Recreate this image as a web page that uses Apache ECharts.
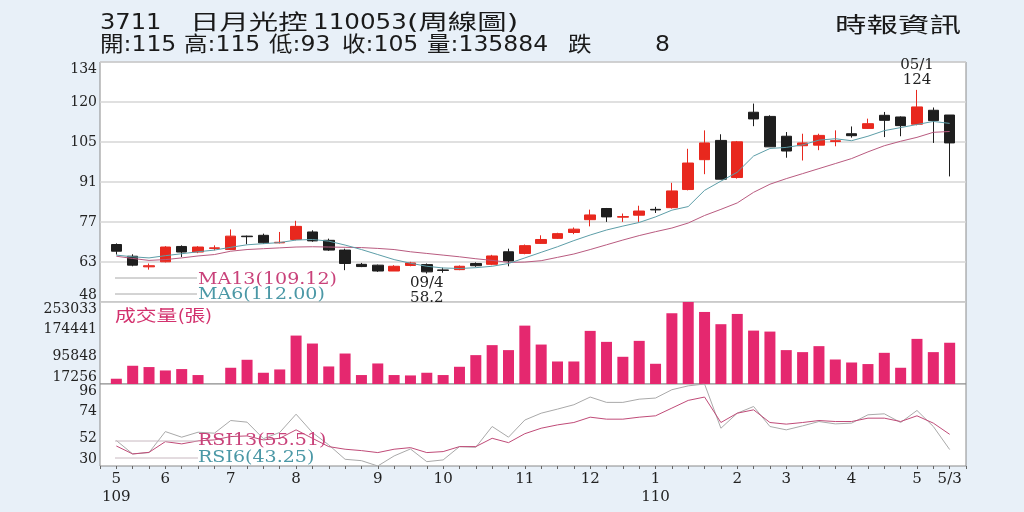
<!DOCTYPE html>
<html><head><meta charset="utf-8">
<script src="https://cdn.jsdelivr.net/npm/echarts@6/dist/echarts.min.js"></script>
<style>html,body{margin:0;padding:0;background:#e8f0f8;}#c{width:1024px;height:512px;}</style>
</head><body><div id="c"></div>
<script>
const weeks = ['109/05/2','109/05/3','109/05/4','109/06/1','109/06/2','109/06/3','109/06/4','109/07/1','109/07/2','109/07/3','109/07/4','109/08/1','109/08/2','109/08/3','109/08/4','109/08/5','109/09/1','109/09/2','109/09/3','109/09/4','109/10/1','109/10/2','109/10/3','109/10/4','109/10/5','109/11/1','109/11/2','109/11/3','109/11/4','109/12/1','109/12/2','109/12/3','109/12/4','110/01/1','110/01/2','110/01/3','110/01/4','110/01/5','110/02/1','110/02/2','110/02/3','110/03/1','110/03/2','110/03/3','110/03/4','110/04/1','110/04/2','110/04/3','110/04/4','110/05/1','110/05/2','110/05/3'];
const opens  = [68.6,64.4,60.6,62.4,67.9,65.9,67.2,66.8,71.6,71.9,69.2,70.4,73.1,70.1,66.6,61.5,61.2,59.1,61.1,61.4,59.5,59.6,61.8,61.5,66.0,65.4,69.0,70.8,72.9,77.5,81.5,78.4,79.1,81.2,81.8,88.3,99.0,105.9,92.6,116.0,114.5,107.4,104.0,104.2,105.5,108.3,110.2,114.9,114.3,111.7,116.7,115];
const closes = [66.2,61.2,61.0,67.7,65.9,67.7,67.4,71.6,71.4,69.2,69.4,75.1,69.9,66.6,61.8,60.7,59.1,60.8,62.0,58.8,59.3,60.8,61.0,64.5,62.7,68.2,70.4,72.5,74.1,79.2,78.5,78.6,80.6,81.0,87.8,97.8,105.0,92.0,105.4,113.6,103.6,102.1,105.0,107.7,105.8,107.6,111.9,113.1,111.2,117.9,113,105];
const lows   = [65.0,60.8,59.6,62.2,64.1,65.5,66.5,66.6,68.7,68.9,69.0,70.1,69.6,66.3,59.4,60.5,58.8,59.1,60.8,58.2,58.5,59.4,60.6,61.2,60.8,65.1,68.8,70.6,72.3,75.1,76.7,76.7,76.7,79.9,81.5,88.0,93.8,92.0,92.2,111.0,103.6,99.7,98.7,102.4,103.8,106.9,110.0,107.1,107.4,111.3,105.0,93];
const highs  = [69.0,65.1,61.8,68.0,68.3,68.0,68.3,74.0,71.8,72.5,73.1,77.1,73.7,70.7,67.1,62.0,61.4,61.2,62.4,61.8,60.3,61.1,62.2,64.9,67.1,68.6,71.9,72.8,74.7,81.1,81.7,79.7,82.5,82.1,90.7,102.9,109.5,108.1,105.7,119.1,114.9,108.9,108.3,108.3,109.5,110.9,113.7,116.1,114.5,124,117.7,115];
const volumes = [32400,69700,65960,56200,60200,43000,17256,63960,86900,49600,59100,156500,133600,67700,104900,43000,76300,43000,41900,49600,43000,66800,100300,129000,114700,185100,130700,82000,82000,170000,138400,95500,141300,75400,220700,253033,224400,189200,218700,170800,168000,114700,108900,126100,87700,79100,74600,106900,63960,147000,108900,135884];
const ma6  = [64.8,64.2,63.8,64.6,65.3,66.0,66.6,67.6,68.5,68.9,69.3,70.2,70.4,69.8,68.4,66.8,65.0,63.2,61.9,60.8,60.2,60.0,60.3,60.8,61.8,63.8,65.8,67.8,70.0,72.0,73.8,75.2,76.5,78.5,80.9,82.2,88.0,91.3,94.5,100.3,103.0,103.4,104.3,106.0,106.5,105.8,107.4,109.4,110.5,111.6,112.7,112.0];
const ma13 = [64.4,63.6,62.9,63.2,63.8,64.5,65.0,66.2,66.8,67.1,67.4,67.7,67.8,67.7,67.6,67.5,67.2,66.8,66.0,65.4,64.8,64.2,63.5,62.9,62.2,62.3,62.8,64.0,65.2,66.8,68.5,70.2,71.8,73.2,74.5,76.3,79.0,81.2,83.5,87.3,90.2,92.2,94.0,95.8,97.6,99.4,101.8,104.0,105.6,107.0,108.8,109.1];
const rsi6  = [50.5,39.7,40.8,57.7,53.2,57.2,56.4,66.6,65.3,52.0,57.0,71.7,56.9,47.0,35.4,34.3,30.0,38.1,43.7,33.5,34.9,45.6,45.1,61.8,53.2,67.0,72.5,75.8,79.3,85.5,81.2,81.2,83.8,84.7,91.4,94.5,96.0,60.4,72.5,77.9,61.8,59.1,62.3,65.8,63.9,64.5,71.2,72.0,65.0,74.7,61.8,43.25];
const rsi13 = [46.1,39.7,41.0,49.6,47.8,50.2,51.0,53.7,54.2,51.0,52.3,59.1,52.3,45.6,43.5,42.4,40.8,43.5,44.8,40.8,41.6,45.6,45.6,52.3,48.8,56.0,60.4,63.1,65.0,69.3,67.7,67.7,69.3,70.4,76.6,82.8,85.5,65.0,72.5,75.2,65.0,63.7,65.0,66.6,65.8,65.8,68.5,68.5,65.8,70.4,64.5,55.51];
const priceTickLabels = ['48','63','77','91','105','120','134'];
const volumeTicks = [17256, 95848, 174441, 253033];
const rsiTicks = [30, 52, 74, 96];
const lowMark = {week: '109/09/4', value: 58.2};
const highMark = {week: '110/05/1', value: 124};

const priceMin = 48, priceMax = 134;
const priceStep = (priceMax - priceMin) / (priceTickLabels.length - 1);
const priceTickValues = priceTickLabels.map((_, i) => priceMin + i * priceStep);
const pad = arr => ['-'].concat(arr, ['-']);
const cats = ['p0'].concat(weeks, ['p1']);
const xLabels = {};
weeks.forEach((w, i) => {
  const p = w.split('/');
  const prev = i > 0 ? weeks[i - 1].split('/') : null;
  if (i === weeks.length - 1) { xLabels[i + 1] = Number(p[1]) + '/' + p[2]; return; }
  if (!prev || prev[1] !== p[1]) xLabels[i + 1] = String(Number(p[1])) + ((!prev || prev[0] !== p[0]) ? '\n' + p[0] : '');
});
const serif = '"DejaVu Serif", serif';
const gridBase = {left: 100, right: 58, show: true, backgroundColor: '#ffffff', borderColor: '#8a8a8a', borderWidth: 1};
const hiddenX = gi => ({type: 'category', gridIndex: gi, data: cats, boundaryGap: false, axisLine: {show: false}, axisTick: {show: false}, axisLabel: {show: false}, splitLine: {show: false}});
const yLabel = vals => ({customValues: vals, color: '#222', fontFamily: serif, fontSize: 14, margin: 3, formatter: v => String(v), verticalAlignMinLabel: 'bottom', verticalAlignMaxLabel: 'top'});

const chart = echarts.init(document.getElementById('c'));
const txt = (text, x, y, font, fill, sx) => ({type: 'text', x: x, y: y, scaleX: sx || 1, z: 100, style: {text: text, font: font, fill: fill, align: 'left', verticalAlign: 'middle'}});
const ln = (x1, y1, x2, y2, c) => ({type: 'line', z: 99, shape: {x1: x1, y1: y1, x2: x2, y2: y2}, style: {stroke: c, lineWidth: 1}});
const head = '21px "DejaVu Sans", "Noto Sans CJK TC", sans-serif';

chart.setOption({
  animation: false,
  backgroundColor: '#e8f0f8',
  grid: [
    Object.assign({top: 62, height: 240}, gridBase),
    Object.assign({top: 302, height: 82}, gridBase),
    Object.assign({top: 384, height: 82}, gridBase)
  ],
  xAxis: [hiddenX(0), hiddenX(1), Object.assign(hiddenX(2), {
    axisTick: {show: true, interval: 0, length: 3, lineStyle: {color: '#666'}},
    axisLabel: {show: true, interval: (idx) => xLabels[idx] !== undefined, formatter: (v, idx) => xLabels[idx] || '', color: '#222', fontFamily: serif, fontSize: 15, lineHeight: 18, margin: 4}
  })],
  yAxis: [
    {type: 'value', gridIndex: 0, min: priceMin, max: priceMax, axisLine: {show: false}, axisTick: {show: false, customValues: priceTickValues},
     axisLabel: Object.assign(yLabel(priceTickValues), {formatter: v => priceTickLabels[Math.round((v - priceMin) / priceStep)]}),
     splitLine: {show: true, lineStyle: {color: '#d6d6d6', width: 1.5}}},
    {type: 'value', gridIndex: 1, min: volumeTicks[0], max: volumeTicks[volumeTicks.length - 1], axisLine: {show: false}, axisTick: {show: false, customValues: volumeTicks}, axisLabel: yLabel(volumeTicks), splitLine: {show: false}},
    {type: 'value', gridIndex: 2, min: rsiTicks[0], max: rsiTicks[rsiTicks.length - 1], axisLine: {show: false}, axisTick: {show: false, customValues: rsiTicks}, axisLabel: yLabel(rsiTicks), splitLine: {show: false}}
  ],
  series: [
    {type: 'candlestick', xAxisIndex: 0, yAxisIndex: 0, barWidth: 11,
     data: pad(weeks.map((w, i) => [opens[i], closes[i], lows[i], highs[i]])),
     itemStyle: {color: '#e8281e', color0: '#1e1e1e', borderColor: '#e8281e', borderColor0: '#1e1e1e', borderWidth: 1},
     markPoint: {symbol: 'circle', symbolSize: 1, itemStyle: {color: 'rgba(0,0,0,0)'},
       label: {color: '#222', fontFamily: serif, fontSize: 15, lineHeight: 15},
       data: [
         {coord: [lowMark.week, lowMark.value], label: {position: 'bottom', distance: 2, formatter: lowMark.week.slice(-4) + '\n' + lowMark.value}},
         {coord: [highMark.week, highMark.value], label: {position: 'top', distance: 2, formatter: highMark.week.slice(-4) + '\n' + highMark.value}}
       ]}},
    {type: 'line', name: 'MA13', xAxisIndex: 0, yAxisIndex: 0, data: pad(ma13), symbol: 'none', lineStyle: {color: '#b95b80', width: 1}},
    {type: 'line', name: 'MA6', xAxisIndex: 0, yAxisIndex: 0, data: pad(ma6), symbol: 'none', lineStyle: {color: '#5d9ea8', width: 1}},
    {type: 'bar', name: 'VOL', xAxisIndex: 1, yAxisIndex: 1, data: pad(volumes), barWidth: 11, itemStyle: {color: '#e5286f'}},
    {type: 'line', name: 'RSI6', xAxisIndex: 2, yAxisIndex: 2, data: pad(rsi6), symbol: 'none', lineStyle: {color: '#a9a9a9', width: 1}},
    {type: 'line', name: 'RSI13', xAxisIndex: 2, yAxisIndex: 2, data: pad(rsi13), symbol: 'none', lineStyle: {color: '#c04b78', width: 1}}
  ],
  graphic: [
    txt('3711', 100, 24, head, '#1a1a1a', 1.15),
    txt('日月光控', 190, 24, head, '#1a1a1a', 1.4),
    txt('110053', 313, 24, head, '#1a1a1a', 1.17),
    txt('(周線圖)', 407, 24, head, '#1a1a1a', 1.4),
    txt('開:115', 100, 46, head, '#1a1a1a', 1.12),
    txt('高:115', 184, 46, head, '#1a1a1a', 1.12),
    txt('低:93', 269, 46, head, '#1a1a1a', 1.12),
    txt('收:105', 342, 46, head, '#1a1a1a', 1.12),
    txt('量:135884', 427, 46, head, '#1a1a1a', 1.12),
    txt('跌', 568, 46, head, '#1a1a1a', 1.12),
    txt('8', 655, 46, head, '#1a1a1a', 1.12),
    txt('時報資訊', 835, 27, head, '#1a1a1a', 1.5),
    ln(115, 278, 197, 278, '#a8a8a8'),
    ln(115, 294, 197, 294, '#a8a8a8'),
    txt('MA13(109.12)', 198, 280, '17px ' + serif, '#c9427a', 1.12),
    txt('MA6(112.00)', 198, 295, '17px ' + serif, '#4b98a6', 1.12),
    txt('成交量(張)', 115, 315, '16px "Noto Sans CJK TC", sans-serif', '#d3326e', 1.3),
    ln(115, 441, 198, 441, '#c8b8c0'),
    ln(115, 458, 198, 458, '#c8b8c0'),
    txt('RSI13(55.51)', 198, 441, '17px ' + serif, '#c9427a', 1.12),
    txt('RSI6(43.25)', 198, 458, '17px ' + serif, '#4b98a6', 1.12)
  ]
});
</script></body></html>
